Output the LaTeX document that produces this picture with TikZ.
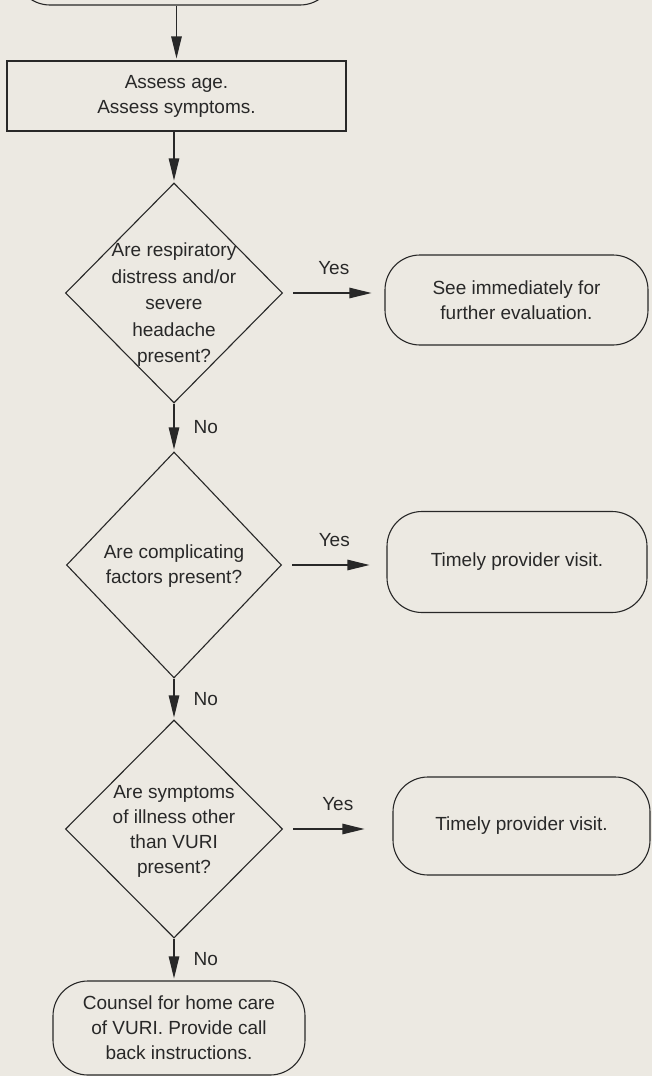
\documentclass[tikz,border=0pt]{standalone}
\usepackage{fontspec}
\setmainfont{Liberation Sans}
\usetikzlibrary{shapes.geometric,arrows.meta}
\definecolor{paper}{RGB}{236,233,226}
\definecolor{ink}{RGB}{40,40,40}
\begin{document}
\begin{tikzpicture}[x=1pt,y=-1pt,
  every node/.style={font=\fontsize{19}{25}\selectfont, text=ink},
  process/.style={rectangle, draw=ink, line width=1.1pt, align=center, inner sep=0pt},
  terminal/.style={process, rounded corners=35pt},
  decision/.style={diamond, draw=ink, line width=1.1pt, inner sep=0pt},
  qtext/.style={align=center, inner sep=0pt},
  flow/.style={draw=ink, line width=1.1pt, -{Triangle[length=22pt,width=10.5pt]}, shorten >=2pt},
  tag/.style={inner sep=2pt}]
\useasboundingbox (0,0) rectangle (652,1076);
\fill[paper] (0,0) rectangle (652,1076);
\clip (0,0) rectangle (652,1076);

\node[terminal, minimum width=320pt, minimum height=60pt] (start) at (175,-25) {};
\node[process, minimum width=339pt, minimum height=70pt] (assess) at (176.5,96) {Assess age.\\Assess symptoms.};

\node[decision, minimum width=217pt, minimum height=220pt] (d1) at (174,293) {};
\node[qtext, font=\fontsize{19}{26.5}\selectfont] (d1t) at (174,305) {Are respiratory\\distress and/or\\severe\\headache\\present?};
\node[decision, minimum width=215pt, minimum height=226pt] (d2) at (174,565) {};
\node[qtext] (d2t) at (174,566) {Are complicating\\factors present?};
\node[decision, minimum width=217pt, minimum height=218pt] (d3) at (174,829) {};
\node[qtext] (d3t) at (174,831) {Are symptoms\\of illness other\\than VURI\\present?};

\node[terminal, minimum width=252pt, minimum height=94pt] (home) at (179,1028) {Counsel for home care\\of VURI. Provide call\\back instructions.};

\node[terminal, minimum width=263pt, minimum height=90pt] (r1) at (516.5,300) {See immediately for\\further evaluation.};
\node[terminal, minimum width=260pt, minimum height=101pt] (r2) at (517,562) {Timely provider visit.};
\node[terminal, minimum width=257pt, minimum height=98pt] (r3) at (521.5,826) {Timely provider visit.};

\draw[flow] (start.south -| assess.north) -- (assess.north);
\draw[flow] (d1.north |- assess.south) -- (d1.north);
\draw[flow] (d1.south) -- node[tag, right=17pt] (no1) {No} (d2.north);
\draw[flow] (d2.south) -- node[tag, right=17pt] (no2) {No} (d3.north);
\draw[flow] (d3.south) -- node[tag, right=17pt] (no3) {No} (d3.south |- home.north);

\draw[flow, shorten <=10pt, shorten >=13pt] (d1.east) -- node[tag, above=16pt] (yes1) {Yes} (d1.east -| r1.west);
\draw[flow, shorten <=10pt, shorten >=17pt] (d2.east) -- node[tag, above=16pt] (yes2) {Yes} (d2.east -| r2.west);
\draw[flow, shorten <=10pt, shorten >=28pt] (d3.east) -- node[tag, above=16pt] (yes3) {Yes} (d3.east -| r3.west);
\end{tikzpicture}
\end{document}
